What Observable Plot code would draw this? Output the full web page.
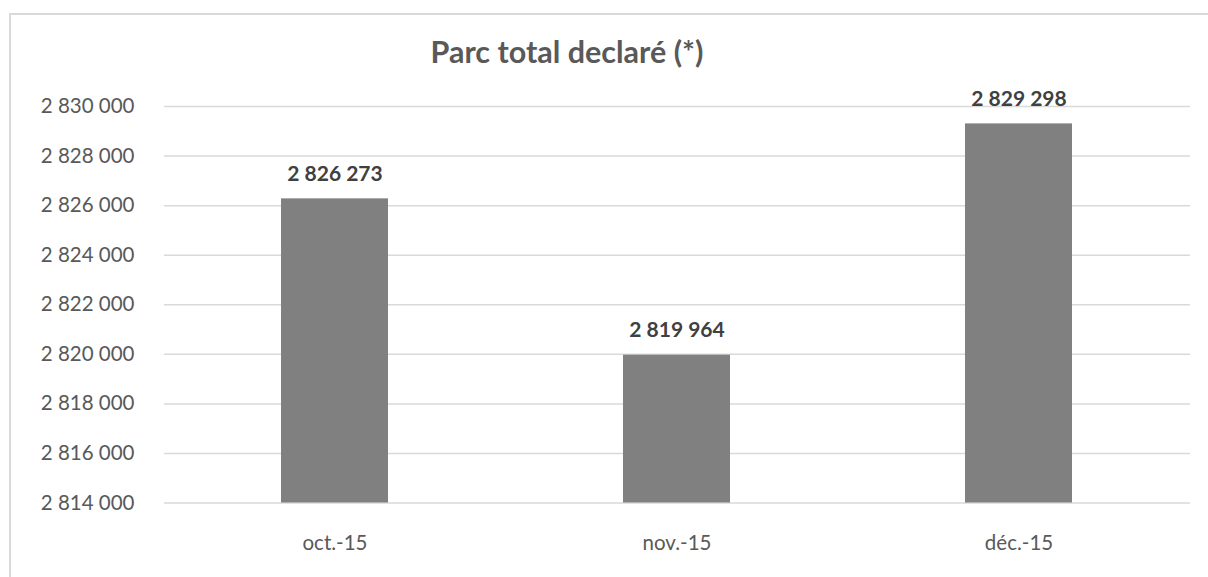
<!DOCTYPE html>
<html>
<head>
<meta charset="utf-8">
<script src="https://cdn.jsdelivr.net/npm/d3@7"></script>
<script src="https://cdn.jsdelivr.net/npm/@observablehq/plot@0.6"></script>
<style>
  html, body { margin: 0; padding: 0; background: #fff; overflow: hidden; }
  #wrap { position: relative; width: 1208px; height: 577px; }
  #frame { position: absolute; left: 9px; top: 13px; width: 1300px; height: 700px;
           border-left: 2px solid #d9d9d9; border-top: 2px solid #d9d9d9; box-sizing: border-box; }
  #title { position: absolute; left: 0; top: 0; width: 1134px; height: 80px; line-height: 1;
           text-align: center; font-family: Lato, sans-serif; font-weight: bold; font-size: 30.5px;
           color: #595959; padding-top: 36px; box-sizing: border-box; }
  #chart { position: absolute; left: 0; top: 80px; }
</style>
</head>
<body>
<div id="wrap">
  <div id="frame"></div>
  <div id="title">Parc total declaré (*)</div>
  <div id="chart"></div>
</div>
<script>
const months = ["oct.-15", "nov.-15", "déc.-15"];
const values = [2826273, 2819964, 2829298];
const yTicks = [2814000, 2816000, 2818000, 2820000, 2822000, 2824000, 2826000, 2828000, 2830000];

const data = months.map((m, i) => ({month: m, value: values[i]}));
const fmt = v => d3.format(",")(v).replace(/,/g, " ");
const yMin = yTicks[0], yMax = yTicks[yTicks.length - 1];

const chart = Plot.plot({
  width: 1208,
  height: 497,
  marginTop: 26,
  marginBottom: 74.5,
  marginLeft: 164,
  marginRight: 18,
  style: {fontFamily: "Lato, sans-serif", fontSize: "20.5px", color: "#595959", background: "transparent"},
  x: {domain: months, paddingInner: 0.687, paddingOuter: 0.3435, label: null},
  y: {domain: [yMin, yMax], label: null},
  marks: [
    Plot.ruleY(yTicks, {stroke: "#d9d9d9", strokeWidth: 1.5}),
    Plot.barY(data, {x: "month", y1: yMin, y2: "value", fill: "#808080"}),
    Plot.text(data, {x: "month", y: "value", text: d => fmt(d.value), dy: -25,
      fontWeight: "bold", fill: "#404040", fontSize: 21}),
    Plot.axisY(yTicks, {tickSize: 0, tickPadding: 30, tickFormat: fmt, label: null, fill: "#595959", fontSize: 20.5}),
    Plot.axisX({tickSize: 0, tickPadding: 32, label: null, fill: "#595959", fontSize: 20.5})
  ]
});
document.getElementById("chart").appendChild(chart);
</script>
</body>
</html>
